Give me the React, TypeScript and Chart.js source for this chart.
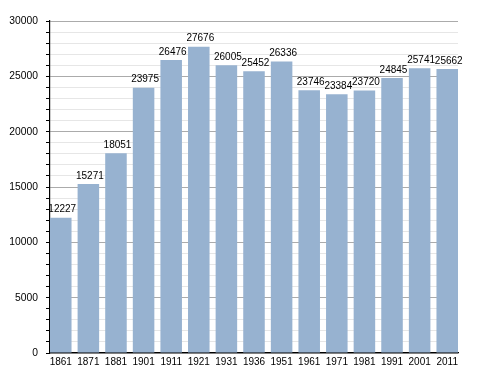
import React, { useEffect, useRef } from "react";
import { Chart, registerables } from "chart.js";

Chart.register(...registerables);

const years = ["1861", "1871", "1881", "1901", "1911", "1921", "1931", "1936", "1951", "1961", "1971", "1981", "1991", "2001", "2011"];
const population = [12227, 15271, 18051, 23975, 26476, 27676, 26005, 25452, 26336, 23746, 23384, 23720, 24845, 25741, 25662];
const yTickLabels = [0, 5000, 10000, 15000, 20000, 25000, 30000];

const FONT = "'Liberation Sans', Arial, sans-serif";

const barLabels = {
  id: "barLabels",
  afterDraw(chart: any) {
    const ctx = chart.ctx;
    const meta = chart.getDatasetMeta(0);
    ctx.save();
    ctx.font = `10px ${FONT}`;
    ctx.fillStyle = "#000";
    ctx.textAlign = "center";
    ctx.textBaseline = "bottom";
    meta.data.forEach((el: any, i: number) => {
      ctx.fillText(String(population[i]), el.x + 1.5, el.y - 3);
    });
    ctx.restore();
  },
};

export default function App() {
  const ref = useRef<HTMLCanvasElement>(null);
  useEffect(() => {
    document.body.style.margin = "0";
    const chart = new Chart(ref.current!, {
      type: "bar",
      data: {
        datasets: [
          {
            data: population.map((v, i) => ({ x: i, y: v })),
            backgroundColor: "#97b2d0",
            borderWidth: 0,
            barPercentage: 0.78,
            categoryPercentage: 1,
          },
        ],
      },
      options: {
        animation: false,
        responsive: false,
        maintainAspectRatio: false,
        layout: { padding: { top: 21, right: 30, left: 0, bottom: 0 } },
        plugins: { legend: { display: false }, tooltip: { enabled: false } },
        scales: {
          x: {
            type: "linear",
            offset: false,
            min: -0.39,
            max: years.length - 1 + 0.39,
            afterBuildTicks: (s: any) => {
              s.ticks = years.map((_, i) => ({ value: i }));
            },
            afterFit: (s: any) => {
              s.height = 20;
            },
            grid: { display: false, drawTicks: false },
            border: { display: true, color: "#000", width: 1.2 },
            ticks: {
              autoSkip: false,
              maxRotation: 0,
              padding: 3,
              color: "#000",
              font: { family: FONT, size: 10 },
              callback: (v: any) => years[v] ?? "",
            },
          },
          y: {
            min: 0,
            max: 30000,
            afterFit: (s: any) => {
              s.width = 50;
            },
            ticks: {
              stepSize: 1000,
              autoSkip: false,
              padding: 8,
              color: "#000",
              font: { family: FONT, size: 10.3 },
              callback: (v: any) => (yTickLabels.includes(v) ? String(v) : ""),
            },
            grid: {
              color: (c: any) => (c.tick && c.tick.value % 5000 === 0 ? "#ababab" : "#e6e6e6"),
              tickColor: "#000",
              tickLength: 4,
              lineWidth: 1,
            },
            border: { display: true, color: "#000", width: 1.2 },
          },
        },
      },
      plugins: [barLabels],
    });
    return () => chart.destroy();
  }, []);
  return <canvas ref={ref} width={488} height={373} style={{ display: "block" }} />;
}
